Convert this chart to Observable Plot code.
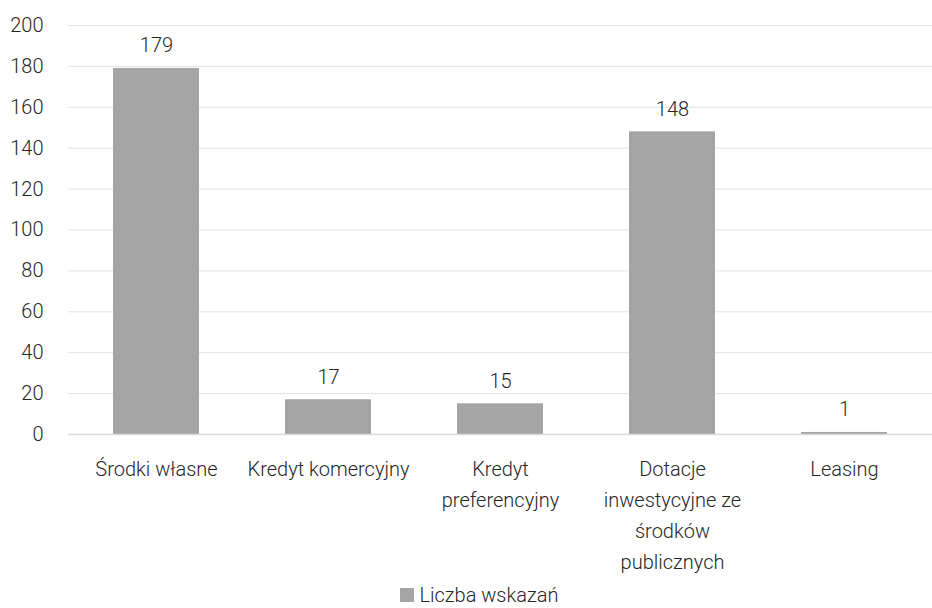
<!DOCTYPE html>
<html>
<head>
<meta charset="utf-8">
<script src="https://cdn.jsdelivr.net/npm/d3@7"></script>
<script src="https://cdn.jsdelivr.net/npm/@observablehq/plot@0.6"></script>
<style>
  body { margin: 0; background: #fff; font-family: Roboto, "Noto Sans", sans-serif; overflow: hidden; }
  #chart svg { display: block; }
  .legend { height: 26px; display: flex; justify-content: center; align-items: center; gap: 6px; padding-left: 26px;
            font-family: Roboto, sans-serif; font-weight: 300; font-size: 20px; line-height: 24px; color: #262626; }
  .legend .sw { width: 14px; height: 14px; background: #a5a5a5; display: inline-block; }
</style>
</head>
<body>
<div id="chart"></div>
<script>
const categories = ["Środki własne", "Kredyt komercyjny", "Kredyt preferencyjny", "Dotacje inwestycyjne ze środków publicznych", "Leasing"];
const tickLabels = ["Środki własne", "Kredyt komercyjny", "Kredyt\npreferencyjny", "Dotacje\ninwestycyjne ze\nśrodków\npublicznych", "Leasing"];
const values = [179, 17, 15, 148, 1];
const seriesName = "Liczba wskazań";
const yTicks = [0, 20, 40, 60, 80, 100, 120, 140, 160, 180, 200];

const data = categories.map((c, i) => ({category: c, value: values[i]}));
const labelMap = new Map(categories.map((c, i) => [c, tickLabels[i]]));

const chart = Plot.plot({
  width: 932,
  height: 582,
  marginTop: 25,
  marginBottom: 148,
  marginLeft: 68,
  marginRight: 0,
  style: {fontFamily: "Roboto, sans-serif", fontSize: "20px", fontWeight: 300, color: "#262626", background: "#fff"},
  x: {domain: categories, paddingInner: 0.5, paddingOuter: 0.25, label: null},
  y: {domain: [0, 200], label: null},
  marks: [
    Plot.gridY(yTicks.filter(d => d > 0), {stroke: "#e3e3e3", strokeOpacity: 1, strokeWidth: 1}),
    Plot.barY(data, {x: "category", y: "value", fill: "#a5a5a5"}),
    Plot.ruleY([0], {stroke: "#d9d9d9", strokeWidth: 1.5}),
    Plot.text(data, {x: "category", y: "value", text: d => String(d.value), lineAnchor: "bottom", dy: -16, fill: "#262626", fontSize: 20}),
    Plot.axisY(yTicks, {tickSize: 0, tickPadding: 25, fontSize: 20, fill: "#262626", label: null}),
    Plot.axisX({tickSize: 0, tickPadding: 19, tickFormat: d => labelMap.get(d), lineHeight: 1.55, fontSize: 20, fill: "#262626", label: null})
  ]
});
document.getElementById("chart").appendChild(chart);

const legend = document.createElement("div");
legend.className = "legend";
legend.innerHTML = `<span class="sw"></span><span></span>`;
legend.lastChild.textContent = seriesName;
document.body.appendChild(legend);
</script>
</body>
</html>
